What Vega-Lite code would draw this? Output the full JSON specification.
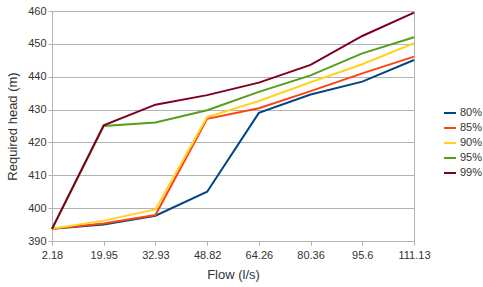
{
  "$schema": "https://vega.github.io/schema/vega-lite/v6.json",
  "width": 362,
  "height": 230,
  "autosize": {"type": "none"},
  "padding": {"left": 52, "top": 11, "right": 69, "bottom": 46},
  "background": "white",
  "config": {
    "font": "Liberation Sans",
    "view": {"stroke": "#b3b3b3"},
    "axis": {"labelColor": "#333333", "titleColor": "#333333", "labelFontSize": 11, "titleFontSize": 13, "titleFontWeight": "normal", "domainColor": "#b3b3b3", "tickColor": "#b3b3b3", "gridColor": "#b3b3b3", "tickSize": 4},
    "legend": {"labelColor": "#333333", "labelFontSize": 11}
  },
  "data": {
    "values": [
      {"flow": "2.18", "o": 1, "s": "80%", "h": 393.7},
      {"flow": "19.95", "o": 2, "s": "80%", "h": 395.0},
      {"flow": "32.93", "o": 3, "s": "80%", "h": 397.7},
      {"flow": "48.82", "o": 4, "s": "80%", "h": 405.0},
      {"flow": "64.26", "o": 5, "s": "80%", "h": 429.0},
      {"flow": "80.36", "o": 6, "s": "80%", "h": 434.6},
      {"flow": "95.6", "o": 7, "s": "80%", "h": 438.5},
      {"flow": "111.13", "o": 8, "s": "80%", "h": 445.1},
      {"flow": "2.18", "o": 1, "s": "85%", "h": 393.7},
      {"flow": "19.95", "o": 2, "s": "85%", "h": 395.3},
      {"flow": "32.93", "o": 3, "s": "85%", "h": 397.9},
      {"flow": "48.82", "o": 4, "s": "85%", "h": 427.2},
      {"flow": "64.26", "o": 5, "s": "85%", "h": 430.4},
      {"flow": "80.36", "o": 6, "s": "85%", "h": 435.6},
      {"flow": "95.6", "o": 7, "s": "85%", "h": 441.0},
      {"flow": "111.13", "o": 8, "s": "85%", "h": 446.1},
      {"flow": "2.18", "o": 1, "s": "90%", "h": 393.7},
      {"flow": "19.95", "o": 2, "s": "90%", "h": 396.2},
      {"flow": "32.93", "o": 3, "s": "90%", "h": 399.6},
      {"flow": "48.82", "o": 4, "s": "90%", "h": 427.7},
      {"flow": "64.26", "o": 5, "s": "90%", "h": 432.6},
      {"flow": "80.36", "o": 6, "s": "90%", "h": 438.3},
      {"flow": "95.6", "o": 7, "s": "90%", "h": 443.8},
      {"flow": "111.13", "o": 8, "s": "90%", "h": 450.2},
      {"flow": "2.18", "o": 1, "s": "95%", "h": 393.7},
      {"flow": "19.95", "o": 2, "s": "95%", "h": 425.0},
      {"flow": "32.93", "o": 3, "s": "95%", "h": 426.1},
      {"flow": "48.82", "o": 4, "s": "95%", "h": 429.8},
      {"flow": "64.26", "o": 5, "s": "95%", "h": 435.4},
      {"flow": "80.36", "o": 6, "s": "95%", "h": 440.4},
      {"flow": "95.6", "o": 7, "s": "95%", "h": 447.1},
      {"flow": "111.13", "o": 8, "s": "95%", "h": 452.0},
      {"flow": "2.18", "o": 1, "s": "99%", "h": 393.7},
      {"flow": "19.95", "o": 2, "s": "99%", "h": 425.2},
      {"flow": "32.93", "o": 3, "s": "99%", "h": 431.5},
      {"flow": "48.82", "o": 4, "s": "99%", "h": 434.4},
      {"flow": "64.26", "o": 5, "s": "99%", "h": 438.2},
      {"flow": "80.36", "o": 6, "s": "99%", "h": 443.6},
      {"flow": "95.6", "o": 7, "s": "99%", "h": 452.4},
      {"flow": "111.13", "o": 8, "s": "99%", "h": 459.5}
    ]
  },
  "mark": {"type": "line", "strokeWidth": 2},
  "encoding": {
    "x": {
      "field": "flow", "type": "ordinal",
      "sort": ["2.18", "19.95", "32.93", "48.82", "64.26", "80.36", "95.6", "111.13"],
      "scale": {"type": "point", "padding": 0},
      "axis": {"title": "Flow (l/s)", "labelAngle": 0, "grid": false, "labelPadding": 4, "titlePadding": 8}
    },
    "y": {
      "field": "h", "type": "quantitative",
      "scale": {"domain": [390, 460], "nice": false, "zero": false},
      "axis": {"title": "Required head (m)", "values": [390, 400, 410, 420, 430, 440, 450, 460], "grid": true, "tickSize": 4, "titlePadding": 8}
    },
    "color": {
      "field": "s", "type": "nominal",
      "scale": {"domain": ["80%", "85%", "90%", "95%", "99%"], "range": ["#004586", "#ff420e", "#ffd320", "#579d1c", "#7e0021"]},
      "legend": {"title": null, "orient": "none", "legendX": 391, "legendY": 95, "symbolType": "stroke", "symbolSize": 144, "symbolStrokeWidth": 2, "rowPadding": 3, "labelOffset": 3}
    },
    "order": {"field": "o", "type": "quantitative"}
  }
}
